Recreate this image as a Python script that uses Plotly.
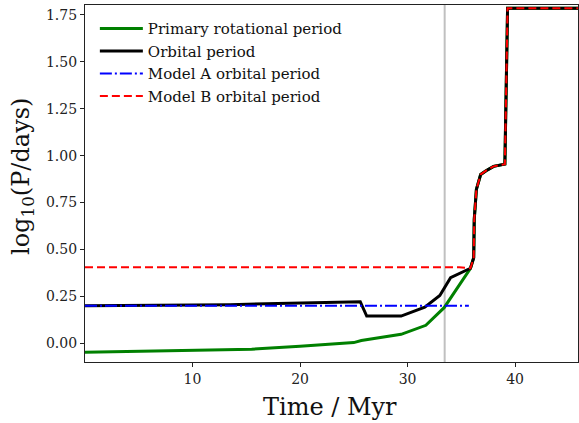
import plotly.graph_objects as go

# Post-synchronisation branch shared by the orbital curves
time_sync = [35.85, 36.15, 36.2, 36.4, 36.8, 37.3, 38.0, 38.9, 39.05, 39.3, 46.0]
logP_sync = [0.40, 0.456, 0.66, 0.82, 0.90, 0.92, 0.943, 0.952, 0.955, 1.786, 1.786]

# Primary rotational period
time_rot = [0.0, 15.5, 20.0, 25.0, 25.7, 29.4, 31.7, 33.4] + time_sync
logP_rot = [-0.047, -0.031, -0.015, 0.004, 0.015, 0.048, 0.096, 0.19] + logP_sync

# Orbital period
time_orb = [0.0, 13.5, 25.6, 26.2, 29.4, 31.6, 33.0, 34.0] + time_sync
logP_orb = [0.200, 0.206, 0.222, 0.145, 0.145, 0.193, 0.255, 0.350] + logP_sync

# Model A orbital period
time_A = [0.0, 35.7]
logP_A = [0.20, 0.20]

# Model B orbital period
time_B = [0.0, 34.8] + time_sync
logP_B = [0.405, 0.405] + logP_sync

# Epoch marker
t_marker = 33.45

FONT = "DejaVu Serif"
W, H = 579, 423
M_L, M_R, M_T, M_B = 85, 1, 5, 61

fig = go.Figure()
fig.add_trace(go.Scatter(x=time_rot, y=logP_rot, mode="lines",
                         name="Primary rotational period",
                         line=dict(color="#008000", width=3)))
fig.add_trace(go.Scatter(x=time_orb, y=logP_orb, mode="lines",
                         name="Orbital period",
                         line=dict(color="black", width=3)))
fig.add_trace(go.Scatter(x=time_A, y=logP_A, mode="lines",
                         name="Model A orbital period",
                         line=dict(color="#0000ff", width=2,
                                   dash="12px,3px,2px,3px")))
fig.add_trace(go.Scatter(x=time_B, y=logP_B, mode="lines",
                         name="Model B orbital period",
                         line=dict(color="#ff0000", width=2, dash="8px,4px")))

fig.add_shape(type="line", x0=t_marker, x1=t_marker, y0=0, y1=1,
              xref="x", yref="paper", layer="below",
              line=dict(color="#c0c0c0", width=2))

axis_common = dict(
    showgrid=False, zeroline=False, showline=True, mirror=True,
    linecolor="#222222", linewidth=1.2,
    ticks="outside", ticklen=4, tickwidth=1.2, tickcolor="#222222",
    tickfont=dict(family=FONT, size=14, color="#222222"),
)

fig.update_xaxes(range=[0.0, 45.85], tickvals=[10, 20, 30, 40], **axis_common)
fig.update_yaxes(range=[-0.0995, 1.803],
                 tickvals=[0, 0.25, 0.5, 0.75, 1.0, 1.25, 1.5, 1.75],
                 tickformat=".2f", **axis_common)

# Axis titles placed in pixel terms relative to the plotting area
plot_w = W - M_L - M_R
plot_h = H - M_T - M_B


def px_to_paper_x(px):
    return (px - M_L) / plot_w


def px_to_paper_y(py):
    return (H - M_B - py) / plot_h


title_font = dict(family=FONT, size=24, color="#111111")
fig.add_annotation(text="Time / Myr", xref="paper", yref="paper",
                   x=px_to_paper_x(330), y=px_to_paper_y(407),
                   xanchor="center", yanchor="middle", showarrow=False,
                   font=title_font)
fig.add_annotation(text="log<sub>10</sub>(P/days)", xref="paper", yref="paper",
                   x=px_to_paper_x(22), y=px_to_paper_y(176),
                   xanchor="center", yanchor="middle", showarrow=False,
                   textangle=-90, font=title_font)

fig.update_layout(
    width=W, height=H,
    margin=dict(l=M_L, r=M_R, t=M_T, b=M_B),
    paper_bgcolor="white", plot_bgcolor="white",
    font=dict(family=FONT, color="#111111"),
    showlegend=True,
    legend=dict(x=0.02, y=0.98, xanchor="left", yanchor="top",
                bgcolor="rgba(255,255,255,0)", borderwidth=0,
                font=dict(family=FONT, size=15, color="#111111"),
                itemwidth=43, tracegroupgap=0),
)

fig.write_html("out.html")
